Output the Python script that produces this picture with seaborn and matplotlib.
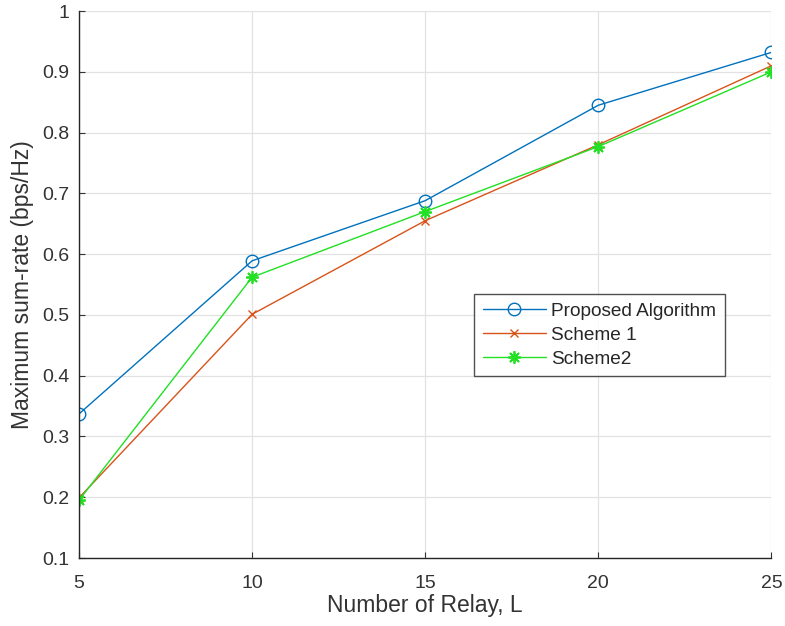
import matplotlib
matplotlib.use("Agg")
import matplotlib.pyplot as plt
import seaborn as sns
import pandas as pd

relays = [5, 10, 15, 20, 25]
proposed = [0.337, 0.589, 0.688, 0.845, 0.932]
scheme1 = [0.199, 0.501, 0.655, 0.780, 0.910]
scheme2 = [0.195, 0.562, 0.670, 0.777, 0.900]

series_names = ["Proposed Algorithm", "Scheme 1", "Scheme2"]
series_values = [proposed, scheme1, scheme2]
colors = ["#0072BD", "#D95319", "#22E022"]
markers = ["o", "x", (8, 2, 0)]

sns.set_style("white")
plt.rcParams["font.family"] = ["Liberation Sans", "DejaVu Sans"]

fig = plt.figure(figsize=(7.85, 6.26), dpi=100)
ax = fig.add_axes([0.1006, 0.1086, 0.8822, 0.8738])

for i, (name, vals, c, m) in enumerate(zip(series_names, series_values, colors, markers)):
    df = pd.DataFrame({"L": relays, "rate": vals})
    if i == 0:
        kw = dict(markersize=9, markerfacecolor="none", markeredgecolor=c, markeredgewidth=1.0)
    elif i == 1:
        kw = dict(markersize=6, markeredgecolor=c, markeredgewidth=1.0)
    else:
        kw = dict(markersize=9, markeredgecolor=c, markeredgewidth=1.3)
    sns.lineplot(data=df, x="L", y="rate", ax=ax, color=c, marker=m, linewidth=1.0,
                 label=name, **kw)

ax.set_xlim(5, 25)
ax.set_ylim(0.1, 1.0)
ax.set_xticks([5, 10, 15, 20, 25])
ax.set_yticks([0.1, 0.2, 0.3, 0.4, 0.5, 0.6, 0.7, 0.8, 0.9, 1.0])
ax.set_yticklabels(["0.1", "0.2", "0.3", "0.4", "0.5", "0.6", "0.7", "0.8", "0.9", "1"])
ax.grid(True, color="#e2e2e2", linewidth=0.9)
ax.tick_params(axis="both", direction="in", length=4, labelsize=14, colors="#333333",
               left=True, bottom=True)
ax.tick_params(axis="x", pad=12)
ax.tick_params(axis="y", pad=7)
for s in ["top", "right"]:
    ax.spines[s].set_visible(False)
for s in ["left", "bottom"]:
    ax.spines[s].set_color("#262626")
    ax.spines[s].set_linewidth(1.0)

ax.set_xlabel("Number of Relay, L", fontsize=16.5, color="#333333", labelpad=2)
ax.set_ylabel("Maximum sum-rate (bps/Hz)", fontsize=16.5, color="#333333", labelpad=6)

leg = ax.legend(loc="upper left", bbox_to_anchor=(0.571, 0.4826), frameon=True, fancybox=False,
                edgecolor="#262626", fontsize=13.7, handlelength=3.3, borderpad=0.45,
                labelspacing=0.35, handletextpad=0.3, borderaxespad=0)
leg.get_frame().set_linewidth(1.0)

fig.savefig("out.png", dpi=100)
